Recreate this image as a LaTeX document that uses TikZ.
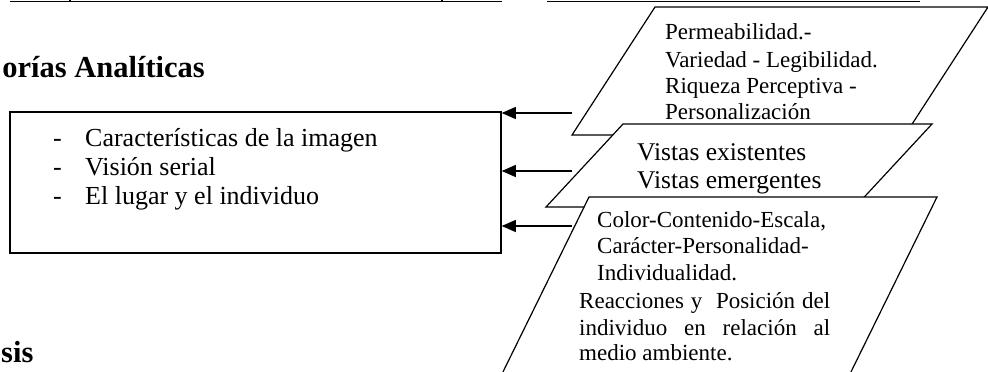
\documentclass[tikz,border=0pt]{standalone}
\usepackage{fontspec}
\setmainfont{Liberation Serif}
\usetikzlibrary{arrows.meta}
\begin{document}
\begin{tikzpicture}[x=1pt,y=-1pt,
  boxtxt/.style={anchor=base west,inner sep=0pt,font=\fontsize{26}{30}\selectfont},
  ptxt/.style={anchor=base west,inner sep=0pt,font=\fontsize{23}{27}\selectfont},
  vtxt/.style={anchor=base west,inner sep=0pt,font=\fontsize{25.5}{29}\selectfont},
  headtxt/.style={anchor=base east,inner sep=0pt,font=\fontsize{30.5}{34}\selectfont\bfseries},
  para/.style={draw=black,line width=1.2pt,fill=white,line join=miter},
  arr/.style={line width=1.2pt,-{Triangle[length=14pt,width=12pt]}},
  rule/.style={line width=1.3pt}]
\useasboundingbox (0,0) rectangle (988,372);
\fill[white] (0,0) rectangle (988,372);

% cut-off table rules at the top
\draw[rule] (10,1.3) -- (502,1.3);
\draw[rule] (70,-2) -- (70,1.3);
\draw[rule] (442,-2) -- (442,1.3);
\draw[rule] (547,1.3) -- (920,1.3);

% headings
\node[headtxt] (h1) at (205,77) {orías Analíticas};
\node[headtxt,anchor=base west] (h2) at (1,362) {sis};

% main box
\node[draw,line width=1.5pt,minimum width=491pt,minimum height=141pt,inner sep=0pt] (box) at (255.5,182.5) {};
\node[boxtxt] (d1) at (53,146) {-};
\node[boxtxt] (t1) at (85,146) {Características de la imagen};
\node[boxtxt] (d2) at (53,175) {-};
\node[boxtxt] (t2) at (85,175) {Visión serial};
\node[boxtxt] (d3) at (53,204) {-};
\node[boxtxt] (t3) at (85,204) {El lugar y el individuo};

% parallelogram 1
\draw[para] (655,7) -- (988,7) -- (905,135) -- (572,135) -- cycle;
\node[ptxt] (p1a) at (665,39) {Permeabilidad.-};
\node[ptxt] (p1b) at (665,67) {Variedad - Legibilidad.};
\node[ptxt] (p1c) at (665,93) {Riqueza Perceptiva -};
\node[ptxt] (p1d) at (665,119) {Personalización};

% parallelogram 2
\draw[para] (623,124) -- (932,124) -- (855,207) -- (546,207) -- cycle;
\node[vtxt] (p2a) at (637,160) {Vistas existentes};
\node[vtxt] (p2b) at (637,188) {Vistas emergentes};

% parallelogram 3
\draw[para] (589,197) -- (937,197) -- (847,380) -- (499,380) -- cycle;
\node[ptxt] (p3a) at (597,227) {Color-Contenido-Escala,};
\node[ptxt] (p3b) at (597,253) {Carácter-Personalidad-};
\node[ptxt] (p3c) at (597,280) {Individualidad.};
\node[ptxt] (p3d) at (579,308) {\makebox[251pt][s]{Reacciones y\ \ Posición del}};
\node[ptxt] (p3e) at (579,335) {\makebox[251pt][s]{individuo en relación al}};
\node[ptxt] (p3f) at (579,360) {medio ambiente.};

% arrows
\coordinate (a1) at (572,113);
\coordinate (a2) at (572,171);
\coordinate (a3) at (572,226);
\draw[arr] (a1) -- (a1 -| box.east);
\draw[arr] (a2) -- (a2 -| box.east);
\draw[arr] (a3) -- (a3 -| box.east);
\end{tikzpicture}
\end{document}
